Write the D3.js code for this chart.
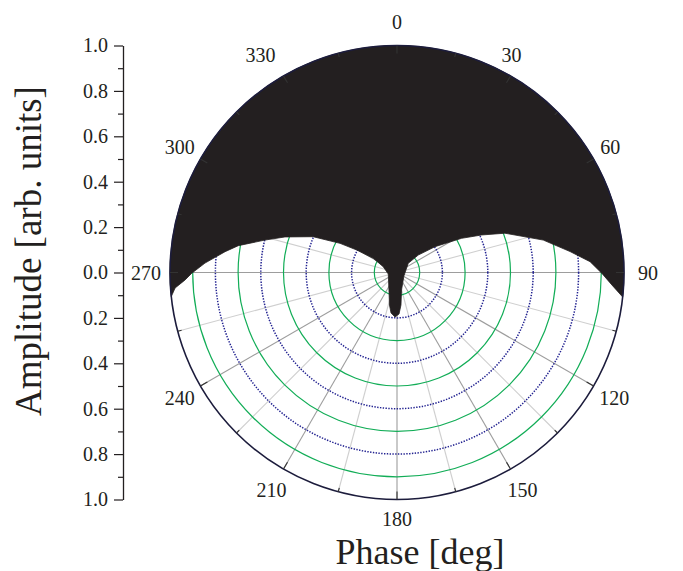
<!DOCTYPE html>
<html>
<head>
<meta charset="utf-8">
<script src="https://cdn.jsdelivr.net/npm/d3@7"></script>
<style>
  body { margin: 0; background: #fff; }
  svg { display: block; }
  text { font-family: "Liberation Serif", "Times New Roman", serif; fill: #231f20; }
</style>
</head>
<body>
<div id="chart"></div>
<script>
// ---- data ----
var phaseTicks = [0, 30, 60, 90, 120, 150, 180, 210, 240, 270, 300, 330];
var spokePhases = [0, 15, 30, 45, 60, 75, 90, 105, 120, 135, 150, 165, 180, 195, 210, 225, 240, 255, 270, 285, 300, 315, 330, 345];
var ringAmps = [0.1, 0.2, 0.3, 0.4, 0.5, 0.6, 0.7, 0.8, 0.9];
var ampTicks = [-1, -0.8, -0.6, -0.4, -0.2, 0, 0.2, 0.4, 0.6, 0.8, 1];
var ampMinorTicks = [-0.9, -0.7, -0.5, -0.3, -0.1, 0.1, 0.3, 0.5, 0.7, 0.9];

// lower edge of the filled response (phase in deg, amplitude)
var edgePhase = [263.9, 266.0, 268.0, 269.8, 272.8, 276.9, 279.6, 283.8, 287.6, 293.1, 297.1, 299.2, 300.9, 292.9, 260.2,
                 204.6, 193.0, 188.4, 182.6, 177.2, 173.0, 165.6, 116.6,
                 50.8, 50.6, 55.8, 62.1, 66.1, 70.0, 77.5, 83.1, 86.8, 90.2, 93.3, 96.2];
var edgeAmp = [1.0, 0.98, 0.934, 0.904, 0.847, 0.763, 0.709, 0.599, 0.518, 0.402, 0.282, 0.203, 0.122, 0.066, 0.039,
               0.085, 0.147, 0.180, 0.196, 0.183, 0.144, 0.080, 0.034,
               0.064, 0.121, 0.202, 0.322, 0.408, 0.506, 0.660, 0.768, 0.852, 0.902, 0.948, 1.0];

var width = 683, height = 571;
var cx = 397, cy = 272.5, R = 227;

var svg = d3.select('#chart').append('svg')
    .attr('width', width)
    .attr('height', height)
    .style('background-color', '#fff');

var r = d3.scaleLinear().domain([0, 1]).range([0, R]);
var ang = d3.scaleLinear().domain([0, 360]).range([0, 2 * Math.PI]);

var g = svg.append('g').attr('transform', 'translate(' + cx + ',' + cy + ')');

function px(phase, amp) { return r(amp) * Math.sin(ang(phase)); }
function py(phase, amp) { return -r(amp) * Math.cos(ang(phase)); }

// spokes
g.selectAll('.spoke').data(spokePhases).enter().append('line')
    .attr('class', 'spoke')
    .attr('x1', 0).attr('y1', 0)
    .attr('x2', function(d) { return px(d, 1); })
    .attr('y2', function(d) { return py(d, 1); })
    .style('stroke', function(d) { return d % 30 === 0 ? '#9d9d9d' : '#cfcfcf'; })
    .style('stroke-width', 1.1);

// rings: odd tenths solid green, even tenths dotted navy
g.selectAll('.ring').data(ringAmps).enter().append('circle')
    .attr('class', 'ring')
    .attr('r', function(d) { return r(d); })
    .style('fill', 'none')
    .style('stroke', function(d, i) { return i % 2 === 0 ? '#12ad57' : '#232391'; })
    .style('stroke-width', function(d, i) { return i % 2 === 0 ? 1.2 : 1.5; })
    .style('stroke-dasharray', function(d, i) { return i % 2 === 0 ? null : '1.4,1.4'; });

// filled response
var edge = edgePhase.map(function(p, i) { return {phase: p, amp: edgeAmp[i]}; });
var path = d3.path();
edge.forEach(function(d, i) {
    if (i === 0) path.moveTo(px(d.phase, d.amp), py(d.phase, d.amp));
    else path.lineTo(px(d.phase, d.amp), py(d.phase, d.amp));
});
var last = edge[edge.length - 1], first = edge[0];
path.arc(0, 0, r(1), ang(last.phase) - Math.PI / 2, ang(first.phase) - Math.PI / 2, true);
path.closePath();
g.append('path')
    .attr('d', path.toString())
    .style('fill', '#231f20')
    .style('stroke', '#231f20')
    .style('stroke-width', 0.8)
    .style('stroke-linejoin', 'round');

// outer circle + inner ticks
g.append('circle')
    .attr('r', r(1))
    .style('fill', 'none')
    .style('stroke', '#1c1c3c')
    .style('stroke-width', 1.6);

g.selectAll('.rtick').data(spokePhases).enter().append('line')
    .attr('class', 'rtick')
    .attr('x1', function(d) { return px(d, 1); })
    .attr('y1', function(d) { return py(d, 1); })
    .attr('x2', function(d) { var k = d % 30 === 0 ? 8 : 4; return px(d, 1 - k / R); })
    .attr('y2', function(d) { var k = d % 30 === 0 ? 8 : 4; return py(d, 1 - k / R); })
    .style('stroke', '#333')
    .style('stroke-width', 1.1);

// phase labels (the two upper diagonal ones sit a little left in the original)
function nudge(d) { return (d === 30 || d === 330) ? -11 : (d === 60 ? -4 : 0); }
g.selectAll('.plabel').data(phaseTicks).enter().append('text')
    .attr('class', 'plabel')
    .attr('x', function(d) { return px(d, 251 / R) + nudge(d); })
    .attr('y', function(d) { return py(d, (d === 180 ? 246.5 : 251) / R); })
    .attr('text-anchor', 'middle')
    .attr('dy', '0.35em')
    .style('font-family', '"Liberation Serif", serif')
    .style('font-size', '20px')
    .text(function(d) { return d; });

// left amplitude axis
var y = d3.scaleLinear().domain([-1, 1]).range([cy + R, cy - R]);
var axisX = 123;

svg.append('g')
    .attr('transform', 'translate(' + axisX + ',0)')
    .call(d3.axisLeft(y).tickValues(ampMinorTicks).tickSize(5).tickSizeOuter(0).tickFormat(''))
    .call(function(s) { s.select('.domain').remove(); })
    .selectAll('line').style('stroke', '#231f20').style('stroke-width', 1.2);

var yAxis = svg.append('g')
    .attr('transform', 'translate(' + axisX + ',0)')
    .call(d3.axisLeft(y).tickValues(ampTicks).tickSize(9).tickSizeOuter(0).tickPadding(6)
        .tickFormat(function(d) { return Math.abs(d).toFixed(1); }));
yAxis.select('.domain').style('stroke', '#231f20').style('stroke-width', 1.3);
yAxis.selectAll('line').style('stroke', '#231f20').style('stroke-width', 1.2);
yAxis.selectAll('text')
    .style('font-family', '"Liberation Serif", serif')
    .style('font-size', '20px')
    .style('fill', '#231f20');

// axis titles
svg.append('text')
    .attr('transform', 'translate(41,251) rotate(-90)')
    .attr('text-anchor', 'middle')
    .style('font-size', '37px')
    .text('Amplitude [arb. units]');

svg.append('text')
    .attr('x', 420)
    .attr('y', 564)
    .attr('text-anchor', 'middle')
    .style('font-size', '36px')
    .text('Phase [deg]');
</script>
</body>
</html>
